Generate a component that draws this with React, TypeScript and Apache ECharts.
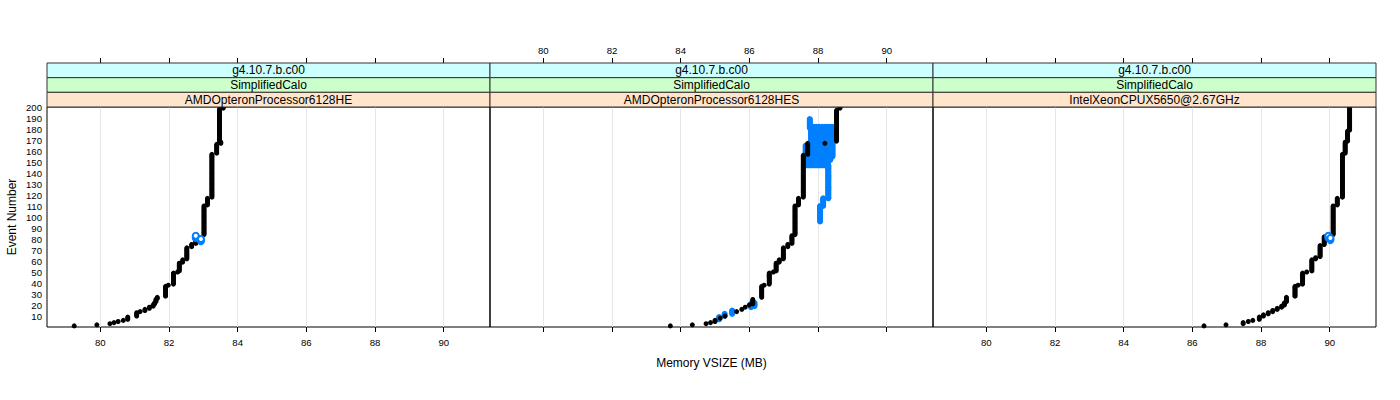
import { useEffect, useRef } from "react";
import * as echarts from "echarts";

// ---- text / categories ----
const panelNames = [
  "AMDOpteronProcessor6128HE",
  "AMDOpteronProcessor6128HES",
  "IntelXeonCPUX5650@2.67GHz",
];
const stripRelease = "g4.10.7.b.c00";
const stripTest = "SimplifiedCalo";
const xTitle = "Memory VSIZE (MB)";
const yTitle = "Event Number";

// ---- tick labels ----
const xTicks = [80, 82, 84, 86, 88, 90];
const yTicks = [10, 20, 30, 40, 50, 60, 70, 80, 90, 100, 110, 120, 130, 140, 150, 160, 170, 180, 190, 200];
const xMin = 78.448;
const xMax = 91.348;

// ---- data: runs of [memory VSIZE (MB), first event, last event] ----
const blackHE = [
  [79.24, 1, 1], [79.9, 2, 2], [80.28, 3, 3], [80.4, 4, 4], [80.52, 5, 5], [80.67, 6, 6],
  [80.8, 7, 9], [81.06, 10, 13], [81.16, 14, 14], [81.3, 15, 16], [81.43, 17, 18], [81.54, 19, 20],
  [81.58, 21, 22], [81.62, 23, 25], [81.66, 26, 27], [81.9, 28, 37], [81.98, 38, 38], [82.13, 39, 49],
  [82.25, 50, 50], [82.3, 51, 58], [82.4, 59, 61], [82.52, 62, 72], [82.66, 73, 75], [82.78, 76, 83],
  [82.93, 79, 79], [83.02, 84, 110], [83.12, 111, 117], [83.25, 118, 157], [83.39, 158, 166],
  [83.51, 167, 168], [83.47, 169, 198], [83.58, 199, 200],
];
const blueHE = [[82.78, 81, 83], [82.93, 78, 80]];

const blackHES = [
  [83.7, 1, 1], [84.34, 2, 2], [84.74, 3, 3], [84.87, 4, 4], [85.0, 5, 6], [85.15, 8, 8],
  [85.29, 10, 10], [85.63, 14, 14], [85.78, 16, 16], [85.88, 18, 18], [86.0, 20, 20], [86.1, 21, 25],
  [86.36, 27, 37], [86.43, 38, 38], [86.58, 39, 49], [86.7, 50, 50], [86.78, 51, 58], [86.87, 59, 61],
  [86.99, 62, 72], [87.12, 73, 75], [87.24, 76, 83], [87.33, 84, 110], [87.43, 111, 117],
  [87.57, 118, 156], [87.7, 157, 167], [88.2, 167, 167], [88.54, 169, 197], [88.64, 199, 200],
];
const blueHES = [
  [85.12, 7, 9], [85.28, 10, 12], [85.5, 12, 15], [86.05, 18, 21], [86.15, 19, 22],
  [88.06, 96, 110], [88.15, 110, 117], [88.3, 117, 147],
  [87.64, 147, 165], [87.72, 147, 165], [87.8, 147, 182], [87.88, 147, 182], [87.96, 147, 182],
  [88.04, 147, 182], [88.12, 147, 182], [88.2, 147, 182], [88.28, 147, 182], [88.36, 152, 182],
  [88.42, 155, 182], [87.76, 181, 189],
];

const blackXeon = [
  [86.34, 1, 1], [86.98, 2, 2], [87.48, 3, 4], [87.63, 5, 5], [87.76, 6, 6], [87.95, 7, 9],
  [88.07, 10, 11], [88.21, 12, 13], [88.34, 14, 15], [88.47, 16, 17], [88.6, 18, 19], [88.68, 20, 22],
  [88.74, 23, 27], [88.99, 28, 37], [89.08, 38, 38], [89.21, 39, 49], [89.33, 50, 50], [89.48, 51, 61],
  [89.59, 62, 63], [89.72, 64, 74], [89.84, 75, 82], [90.1, 84, 110], [90.22, 111, 117],
  [90.37, 118, 157], [90.45, 158, 168], [90.52, 169, 178], [90.58, 179, 200],
];
const blueXeon = [[89.96, 81, 83], [90.02, 79, 81]];

const blackRuns = [blackHE, blackHES, blackXeon];
const blueRuns = [blueHE, blueHES, blueXeon];

// one point per event number inside each run (memory constant over the run)
function expand(runs: number[][]) {
  const pts: number[][] = [];
  for (const [mem, a, b] of runs) {
    for (let e = a; e <= b; e++) pts.push([mem, e]);
  }
  return pts;
}

const FONT = "'Liberation Sans', Arial, Helvetica, sans-serif";
const LEFTS = [47, 490, 933];
const PANEL_W = 443;
const GRID_TOP = 107;
const GRID_H = 220;
const STRIP_H = 44 / 3;
const STRIP_TOP = GRID_TOP - 3 * STRIP_H;
const stripColors = ["#ccffff", "#ccffcc", "#ffe5cc"];

export default function App() {
  const ref = useRef<HTMLDivElement>(null);
  useEffect(() => {
    if (!ref.current) return;
    const chart = echarts.init(ref.current, null, { renderer: "svg" });

    const grids = LEFTS.map((l) => ({
      left: l,
      top: GRID_TOP,
      width: PANEL_W,
      height: GRID_H,
      show: true,
      borderColor: "#000",
      borderWidth: 1,
      backgroundColor: "transparent",
      containLabel: false,
      outerBoundsMode: "none",
    }));

    const xAxes: any[] = [];
    LEFTS.forEach((_, i) => {
      xAxes.push({
        type: "value",
        gridIndex: i,
        position: "bottom",
        min: xMin,
        max: xMax,
        axisLine: { show: false },
        axisTick: { show: true, customValues: xTicks, length: 5, lineStyle: { color: "#000" } },
        axisLabel: {
          show: i !== 1,
          customValues: xTicks,
          fontSize: 9.6,
          color: "#000",
          margin: 10,
          fontFamily: FONT,
        },
        splitLine: { show: true, lineStyle: { color: "#e6e6e6", width: 1 } },
      });
      xAxes.push({
        type: "value",
        gridIndex: i,
        position: "top",
        offset: GRID_TOP - STRIP_TOP,
        min: xMin,
        max: xMax,
        axisLine: { show: false },
        axisTick: { show: true, customValues: xTicks, length: 5, lineStyle: { color: "#000" } },
        axisLabel: {
          show: i === 1,
          customValues: xTicks,
          fontSize: 9.6,
          color: "#000",
          margin: 8,
          fontFamily: FONT,
        },
        splitLine: { show: false },
      });
    });

    const yAxes = LEFTS.map((_, i) => ({
      type: "value",
      gridIndex: i,
      min: 0,
      max: 200,
      axisLine: { show: false },
      axisTick: { show: false },
      axisLabel: {
        show: i === 0,
        customValues: yTicks,
        fontSize: 9.6,
        color: "#000",
        margin: 5,
        fontFamily: FONT,
      },
      splitLine: { show: false },
    }));

    const series: any[] = [];
    LEFTS.forEach((_, i) => {
      const ringStyle = i !== 1;
      series.push({
        type: "scatter",
        xAxisIndex: 2 * i,
        yAxisIndex: i,
        data: expand(blueRuns[i]),
        symbol: ringStyle ? "emptyCircle" : "circle",
        symbolSize: 6,
        itemStyle: ringStyle
          ? { color: "#0080ff", borderColor: "#0080ff", borderWidth: 2, opacity: 1 }
          : { color: "#0080ff", opacity: 1 },
        silent: true,
        z: ringStyle ? 4 : 2,
      });
      series.push({
        type: "scatter",
        xAxisIndex: 2 * i,
        yAxisIndex: i,
        data: expand(blackRuns[i]),
        symbol: "circle",
        symbolSize: 5,
        itemStyle: { color: "#000", opacity: 1 },
        silent: true,
        z: 3,
      });
    });

    const graphics: any[] = [];
    const stripTexts = [stripRelease, stripTest];
    LEFTS.forEach((l, i) => {
      const texts = [...stripTexts, panelNames[i]];
      texts.forEach((t, k) => {
        graphics.push({
          type: "rect",
          z: 10,
          shape: { x: l, y: STRIP_TOP + k * STRIP_H, width: PANEL_W, height: STRIP_H },
          style: { fill: stripColors[k], stroke: "#333", lineWidth: 1 },
        });
        graphics.push({
          type: "text",
          z: 11,
          x: l + PANEL_W / 2,
          y: STRIP_TOP + (k + 0.5) * STRIP_H,
          style: {
            text: t,
            align: "center",
            verticalAlign: "middle",
            fontSize: 12,
            fontFamily: FONT,
            fill: "#000",
          },
        });
      });
    });
    graphics.push({
      type: "text",
      x: LEFTS[0] + (3 * PANEL_W) / 2,
      y: 363,
      style: { text: xTitle, align: "center", verticalAlign: "middle", fontSize: 12, fontFamily: FONT, fill: "#000" },
    });
    graphics.push({
      type: "text",
      x: 12,
      y: GRID_TOP + GRID_H / 2,
      rotation: Math.PI / 2,
      style: { text: yTitle, align: "center", verticalAlign: "middle", fontSize: 12, fontFamily: FONT, fill: "#000" },
    });

    chart.setOption({
      animation: false,
      backgroundColor: "#fff",
      textStyle: { fontFamily: FONT },
      grid: grids,
      xAxis: xAxes,
      yAxis: yAxes,
      series,
      graphic: graphics,
    });
    return () => chart.dispose();
  }, []);
  return (
    <div
      ref={ref}
      style={{ position: "fixed", left: 0, top: 0, width: 1400, height: 400 }}
    />
  );
}
